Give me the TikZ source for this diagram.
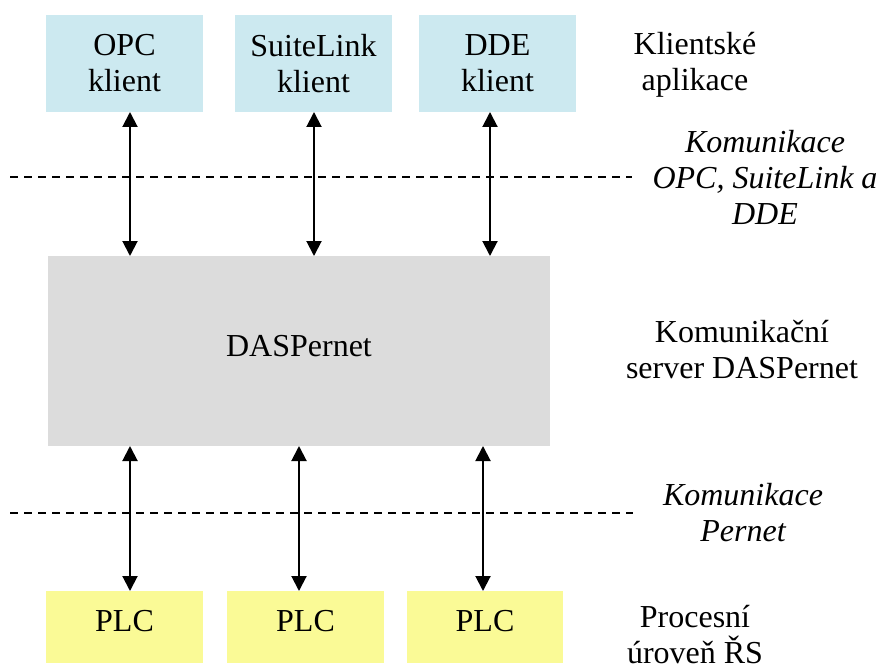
\documentclass[tikz,border=0pt]{standalone}
\usepackage{fontspec}
\setmainfont{Liberation Serif}
\usetikzlibrary{arrows.meta}
\definecolor{clientblue}{HTML}{CCE9F0}
\definecolor{servergray}{HTML}{DCDCDC}
\definecolor{plcyellow}{HTML}{FAFA96}
\begin{document}
\begin{tikzpicture}[x=0.5pt,y=-0.5pt,
  font=\fontsize{16}{18}\selectfont,
  box/.style={anchor=north west, inner sep=0pt, outer sep=0pt, align=center, draw=none},
  client/.style={box, fill=clientblue, minimum width=78.5pt, minimum height=48.5pt},
  server/.style={box, fill=servergray, minimum width=251pt, minimum height=95pt, text depth=4.6pt},
  plc/.style={box, fill=plcyellow, minimum height=36pt, text depth=6.6pt},
  lbl/.style={anchor=center, align=center, inner sep=0pt},
  ilbl/.style={lbl, font=\fontsize{16}{18}\selectfont\itshape},
  arr/.style={{Triangle[length=7.5pt,width=7.5pt]}-{Triangle[length=7.5pt,width=7.5pt]}, line width=1pt},
  sep/.style={dash pattern=on 4pt off 3pt, line width=0.7pt}
]
\useasboundingbox (0,0) rectangle (881,668);

% client applications
\node[client] (opc) at (46,15) {OPC\\klient};
\node[client] (suite) at (235,15) {SuiteLink\\klient};
\node[client] (dde) at (419,15) {DDE\\klient};

% server
\node[server] (das) at (48,256) {DASPernet};

% PLCs
\node[plc, minimum width=78.5pt] (plc1) at (46,591) {PLC};
\node[plc, minimum width=78.5pt] (plc2) at (227,591) {PLC};
\node[plc, minimum width=78pt] (plc3) at (407,591) {PLC};

% dashed separators
\coordinate (s1a) at (10,177);
\coordinate (s1b) at (632,177);
\coordinate (s2a) at (10,513);
\coordinate (s2b) at (633,513);
\draw[sep] (s1a) -- (s1b);
\draw[sep] (s2a) -- (s2b);

% arrows top
\draw[arr] ([xshift=2.75pt]opc.south) -- ([xshift=2.75pt]opc.south |- das.north);
\draw[arr] ([xshift=0.25pt]suite.south) -- ([xshift=0.25pt]suite.south |- das.north);
\draw[arr] ([xshift=-3.75pt]dde.south) -- ([xshift=-3.75pt]dde.south |- das.north);

% arrows bottom
\draw[arr] ([xshift=2.75pt]plc1.north |- das.south) -- ([xshift=2.75pt]plc1.north);
\draw[arr] ([xshift=-3.25pt]plc2.north |- das.south) -- ([xshift=-3.25pt]plc2.north);
\draw[arr] ([xshift=-1pt]plc3.north |- das.south) -- ([xshift=-1pt]plc3.north);

% right-hand labels
\node[lbl] (l1) at (695,65) {Klientské\\aplikace};
\node[ilbl] (l2) at (765,177) {Komunikace\\OPC, SuiteLink a\\DDE};
\node[lbl] (l3) at (742,350) {Komunikační\\server DASPernet};
\node[ilbl] (l4) at (743,513) {Komunikace\\Pernet};
\node[lbl] (l5) at (695,635) {Procesní\\úroveň ŘS};
\end{tikzpicture}
\end{document}
